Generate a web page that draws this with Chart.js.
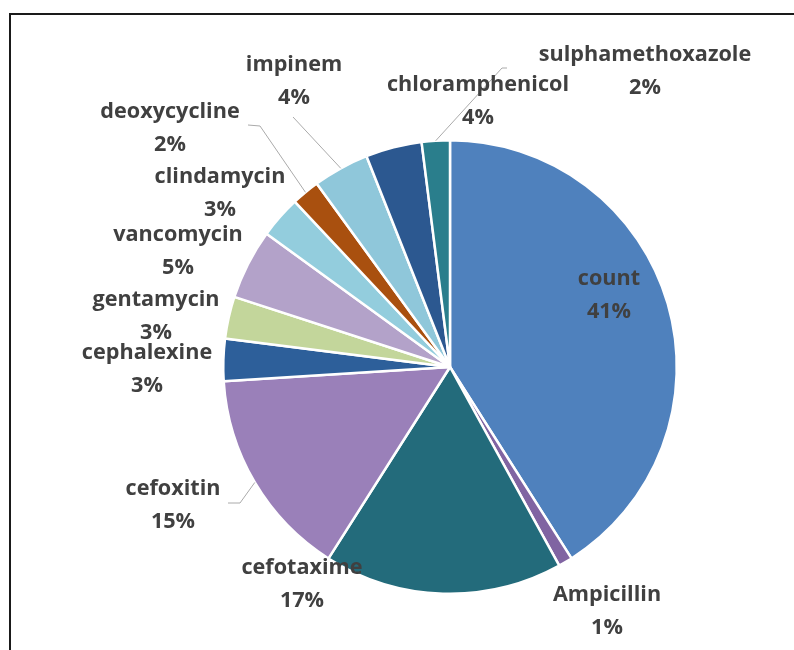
<!DOCTYPE html>
<html>
<head>
<meta charset="utf-8">
<script src="https://cdn.jsdelivr.net/npm/chart.js@4.4.1/dist/chart.umd.min.js"></script>
<style>
  html, body { margin: 0; padding: 0; background: #fff; }
  #wrap { position: relative; width: 794px; height: 650px; overflow: hidden; }
  #frame {
    position: absolute; left: 9px; top: 13px; width: 800px; height: 650px;
    border-top: 2px solid #1a1a1a; border-left: 2px solid #1a1a1a;
    pointer-events: none;
  }
</style>
</head>
<body>
<div id="wrap">
  <canvas id="pieChart" width="794" height="650"></canvas>
  <div id="frame"></div>
</div>
<script>
// antibiotic share, clockwise from 12 o'clock
const drugNames = [
  'count', 'Ampicillin', 'cefotaxime', 'cefoxitin', 'cephalexine', 'gentamycin',
  'vancomycin', 'clindamycin', 'deoxycycline', 'impinem', 'chloramphenicol', 'sulphamethoxazole'
];
const drugCounts = [41, 1, 17, 15, 3, 3, 5, 3, 2, 4, 4, 2];

const sliceColors = [
  '#4f81bd', '#8064a2', '#236b7b', '#9a80b9', '#2d5f9a', '#c3d69b',
  '#b3a2c9', '#93cddd', '#a9500f', '#8fc7da', '#2c5890', '#2a7e8c'
];

// label placement, offset from the pie centre (name line; percent sits below)
const labelOffsets = [
  [159, -88], [157, 228], [-148, 201], [-277, 122], [-303, -14], [-294, -67],
  [-272, -132], [-230, -190], [-280, -255], [-156, -302], [28, -282], [195, -312]
];
// leader lines: index -> points after the slice edge, offset from the pie centre
const leaderLines = {
  3: [[-210, 136], [-222, 136]],
  8: [[-190, -241], [-202, -242]],
  9: [[-157, -250]],
  11: [[52, -299], [57, -299]]
};

const LINE_GAP = 33;
const textStretch = 1.03;

const sliceLabels = {
  id: 'sliceLabels',
  afterDatasetsDraw(chart) {
    const ctx = chart.ctx;
    const meta = chart.getDatasetMeta(0);
    const total = drugCounts.reduce((a, b) => a + b, 0);

    // leader lines first so text sits on top
    ctx.save();
    ctx.strokeStyle = '#aaaaaa';
    ctx.lineWidth = 1;
    Object.keys(leaderLines).forEach(k => {
      const arc = meta.data[k];
      const p = arc.getProps(['x', 'y', 'startAngle', 'endAngle', 'outerRadius'], true);
      const mid = (p.startAngle + p.endAngle) / 2;
      ctx.beginPath();
      ctx.moveTo(p.x + Math.cos(mid) * p.outerRadius, p.y + Math.sin(mid) * p.outerRadius);
      leaderLines[k].forEach(pt => ctx.lineTo(p.x + pt[0], p.y + pt[1]));
      ctx.stroke();
    });
    ctx.restore();

    ctx.save();
    ctx.fillStyle = '#404040';
    ctx.font = 'bold 21px "Open Sans"';
    ctx.textAlign = 'center';
    ctx.textBaseline = 'middle';
    meta.data.forEach((arc, i) => {
      const p = arc.getProps(['x', 'y'], true);
      const lx = p.x + labelOffsets[i][0];
      const ly = p.y + labelOffsets[i][1];
      const pct = Math.round(drugCounts[i] / total * 100) + '%';
      [drugNames[i], pct].forEach((txt, j) => {
        ctx.save();
        ctx.translate(lx, ly + j * LINE_GAP);
        ctx.scale(textStretch, 1);
        ctx.fillText(txt, 0, 0);
        ctx.restore();
      });
    });
    ctx.restore();
  }
};

new Chart(document.getElementById('pieChart'), {
  type: 'pie',
  data: {
    labels: drugNames,
    datasets: [{
      data: drugCounts,
      backgroundColor: sliceColors,
      borderColor: '#ffffff',
      borderWidth: 2.5
    }]
  },
  options: {
    responsive: false,
    animation: false,
    layout: { padding: { left: 222, right: 116, top: 139, bottom: 55 } },
    plugins: {
      legend: { display: false },
      tooltip: { enabled: false }
    }
  },
  plugins: [sliceLabels]
});
</script>
</body>
</html>
